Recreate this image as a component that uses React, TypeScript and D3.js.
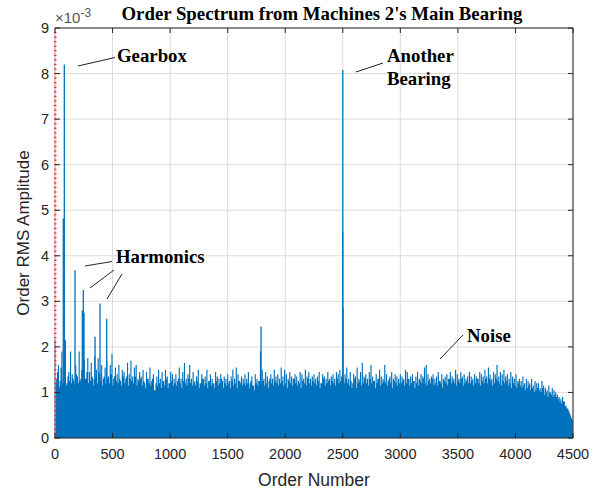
import React from 'react';
import * as d3 from 'd3';

const xTicks = [0, 500, 1000, 1500, 2000, 2500, 3000, 3500, 4000, 4500];
const yTicks = [0, 1, 2, 3, 4, 5, 6, 7, 8, 9];

// noise spike heights (x1e-3), one every 15 orders starting at order 0
const noiseStep = 15;
const noiseTop = [
  2.15, 1.3, 1.6, 1.25, 1.9, 1.35, 1.5, 1.2, 1.45, 1.9,
  1.4, 1.25, 1.6, 1.35, 1.9, 1.3, 1.5, 1.7, 1.3, 1.75,
  1.45, 1.65, 1.3, 1.8, 1.5, 1.75, 1.4, 1.6, 1.3, 1.55,
  1.7, 1.35, 1.6, 1.85, 1.3, 1.55, 1.4, 1.6, 1.25, 1.5,
  1.45, 1.3, 1.65, 1.4, 1.7, 1.35, 1.55, 1.6, 1.3, 1.45,
  1.35, 1.5, 1.2, 1.45, 1.3, 1.55, 1.25, 1.4, 1.05, 1.35,
  1.5, 1.3, 1.45, 1.25, 1.5, 1.35, 1.2, 1.45, 1.4, 1.3,
  1.4, 1.25, 1.55, 1.3, 1.45, 1.65, 1.3, 1.4, 1.6, 1.3,
  1.45, 1.25, 1.35, 1.5, 1.2, 1.4, 1.3, 1.35, 1.5, 1.25,
  1.4, 1.3, 1.2, 1.45, 1.35, 1.3, 1.4, 1.25, 1.35, 1.3,
  1.4, 1.25, 1.35, 1.5, 1.3, 1.55, 1.4, 1.25, 1.35, 1.3,
  1.4, 1.3, 1.45, 1.2, 1.35, 1.15, 1.4, 1.3, 1.25, 1.45,
  1.5, 1.3, 1.45, 1.35, 1.25, 1.4, 1.3, 1.5, 1.35, 1.4,
  1.3, 1.55, 1.35, 1.5, 1.4, 1.3, 1.45, 1.35, 1.3, 1.4,
  1.35, 1.25, 1.45, 1.4, 1.3, 1.5, 1.35, 1.45, 1.3, 1.35,
  1.4, 1.3, 1.35, 1.45, 1.2, 1.4, 1.35, 1.3, 1.45, 1.3,
  1.35, 1.4, 1.3, 1.45, 1.4, 1.5, 1.35, 1.3, 1.4, 1.55,
  1.3, 1.45, 1.1, 1.4, 1.35, 1.55, 1.3, 1.45, 1.65, 1.35,
  1.4, 1.3, 1.45, 1.6, 1.35, 1.25, 1.4, 1.3, 1.5, 1.35,
  1.3, 1.6, 1.4, 1.25, 1.35, 1.45, 1.3, 1.4, 1.35, 1.3,
  1.4, 1.35, 1.3, 1.5, 1.45, 1.3, 1.35, 1.4, 1.25, 1.35,
  1.45, 1.3, 1.4, 1.35, 1.55, 1.6, 1.4, 1.3, 1.35, 1.4,
  1.3, 1.35, 1.45, 1.25, 1.4, 1.3, 1.35, 1.4, 1.3, 1.45,
  1.35, 1.3, 1.5, 1.4, 1.3, 1.45, 1.35, 1.4, 1.3, 1.35,
  1.45, 1.35, 1.3, 1.4, 1.35, 1.3, 1.45, 1.4, 1.35, 1.5,
  1.35, 1.55, 1.4, 1.3, 1.45, 1.4, 1.6, 1.35, 1.45, 1.4,
  1.5, 1.35, 1.4, 1.3, 1.45, 1.35, 1.3, 1.4, 1.25, 1.3,
  1.25, 1.35, 1.2, 1.3, 1.25, 1.2, 1.3, 1.15, 1.25, 1.2,
  1.2, 1.1, 1.25, 1.15, 1.1, 1.05, 1.15, 1.0, 1.1, 1.05,
  1.0, 0.95, 0.9, 0.85, 0.9, 0.8, 0.7, 0.65, 0.55, 0.45,
];

// in-between noise spikes (x1e-3), at orders 7.5 + 15*i
const noiseMid = [
  1.2, 1.45, 1.1, 1.55, 1.2, 1.3, 1.15, 1.35, 1.25, 1.2,
  1.3, 1.15, 1.4, 1.2, 1.25, 1.5, 1.15, 1.3, 1.45, 1.2,
  1.25, 1.35, 1.15, 1.3, 1.2, 1.45, 1.25, 1.15, 1.35, 1.2,
  1.3, 1.2, 1.4, 1.15, 1.35, 1.25, 1.2, 1.3, 1.15, 1.35,
  1.2, 1.35, 1.15, 1.3, 1.25, 1.2, 1.35, 1.15, 1.25, 1.3,
  1.15, 1.25, 1.1, 1.3, 1.2, 1.15, 1.3, 1.05, 1.2, 1.15,
  1.2, 1.1, 1.25, 1.15, 1.3, 1.1, 1.2, 1.25, 1.15, 1.2,
  1.15, 1.3, 1.2, 1.1, 1.25, 1.2, 1.15, 1.3, 1.2, 1.15,
  1.2, 1.15, 1.25, 1.1, 1.2, 1.3, 1.15, 1.2, 1.1, 1.25,
  1.15, 1.2, 1.1, 1.25, 1.15, 1.2, 1.3, 1.1, 1.2, 1.15,
  1.2, 1.1, 1.25, 1.15, 1.2, 1.1, 1.25, 1.2, 1.15, 1.2,
  1.15, 1.2, 1.1, 1.25, 1.15, 1.05, 1.2, 1.15, 1.25, 1.2,
  1.25, 1.15, 1.2, 1.1, 1.3, 1.2, 1.15, 1.25, 1.2, 1.15,
  1.2, 1.25, 1.15, 1.2, 1.1, 1.25, 1.2, 1.15, 1.3, 1.2,
  1.15, 1.2, 1.1, 1.25, 1.2, 1.15, 1.3, 1.2, 1.15, 1.25,
  1.2, 1.15, 1.25, 1.1, 1.2, 1.3, 1.15, 1.2, 1.25, 1.15,
  1.25, 1.2, 1.15, 1.3, 1.2, 1.25, 1.15, 1.2, 1.3, 1.2,
  1.15, 1.25, 1.2, 1.3, 1.1, 1.2, 1.25, 1.15, 1.2, 1.3,
  1.2, 1.15, 1.3, 1.2, 1.25, 1.1, 1.2, 1.3, 1.15, 1.2,
  1.25, 1.2, 1.15, 1.3, 1.2, 1.1, 1.25, 1.2, 1.15, 1.2,
  1.2, 1.25, 1.15, 1.2, 1.3, 1.15, 1.2, 1.25, 1.1, 1.2,
  1.15, 1.25, 1.2, 1.3, 1.2, 1.15, 1.25, 1.2, 1.3, 1.15,
  1.2, 1.15, 1.25, 1.2, 1.1, 1.25, 1.2, 1.15, 1.3, 1.2,
  1.25, 1.2, 1.15, 1.25, 1.2, 1.3, 1.15, 1.2, 1.25, 1.2,
  1.2, 1.25, 1.15, 1.2, 1.3, 1.2, 1.15, 1.25, 1.2, 1.3,
  1.2, 1.3, 1.25, 1.15, 1.2, 1.3, 1.25, 1.2, 1.15, 1.25,
  1.2, 1.25, 1.15, 1.2, 1.1, 1.2, 1.15, 1.1, 1.2, 1.15,
  1.1, 1.15, 1.05, 1.1, 1.15, 1.05, 1.1, 1.0, 1.05, 1.1,
  1.05, 1.0, 1.1, 0.95, 1.0, 0.9, 1.0, 0.95, 0.9, 0.95,
  0.9, 0.85, 0.8, 0.75, 0.8, 0.7, 0.65, 0.6, 0.5, 0.4,
];

// solid noise body level (x1e-3)
const floorOrders = [0, 150, 300, 450, 600, 750, 900, 1050, 1200, 1350, 1500, 1650, 1800, 1950, 2100, 2250, 2400, 2550, 2700, 2850, 3000, 3150, 3300, 3450, 3600, 3750, 3900, 4050, 4200, 4350, 4485];
const floorValues = [1.12, 1.12, 1.12, 1.08, 1.08, 1.04, 1.02, 1.02, 1.04, 1.02, 1.02, 1.0, 1.04, 1.04, 1.04, 1.04, 1.04, 1.04, 1.04, 1.04, 1.04, 1.04, 1.04, 1.04, 1.04, 1.04, 1.0, 0.95, 0.88, 0.72, 0.38];

// distinct spectral peaks (x1e-3)
const peakOrders = [72, 81, 90, 174, 237, 246, 252, 348, 391, 449, 1786, 1790, 2499, 2500, 2502];
const peakValues = [4.82, 8.2, 2.15, 3.68, 2.8, 3.25, 2.75, 2.22, 2.95, 2.62, 1.9, 2.45, 4.53, 8.08, 2.85];

const BLUE = '#0072BD';
const AX = '#262626';

export default function App() {
  const W = 601, H = 491;
  const x = d3.scaleLinear().domain([0, 4500]).range([55, 573]);
  const y = d3.scaleLinear().domain([0, 9]).range([438, 28]);

  const floorArea = d3.area<number>()
    .x((_, i) => x(floorOrders[i]))
    .y0(y(0))
    .y1((d) => y(d));

  const minor = d3.range(0, 90).map((i) => i / 10);

  const sans = 'Liberation Sans, Arial, sans-serif';
  const serif = 'Liberation Serif, Times New Roman, serif';

  const stems =
    noiseTop.map((v, i) => `M${x(i * noiseStep)},${y(0)}V${y(v)}`).join('') +
    noiseMid.map((v, i) => `M${x(i * noiseStep + noiseStep / 2)},${y(0)}V${y(v)}`).join('');

  return (
    <svg width={W} height={H} style={{ position: 'absolute', left: 0, top: 0, background: '#fff' }}>
      <rect x={0} y={0} width={W} height={H} fill="#fff" />
      {/* grid */}
      {xTicks.map((t) => (
        <line key={'gx' + t} x1={x(t)} x2={x(t)} y1={y(0)} y2={y(9)} stroke="#dcdcdc" strokeWidth={1} />
      ))}
      {yTicks.map((t) => (
        <line key={'gy' + t} x1={x(0)} x2={x(4500)} y1={y(t)} y2={y(t)} stroke="#dcdcdc" strokeWidth={1} />
      ))}

      {/* noise body */}
      <path d={floorArea(floorValues) || ''} fill={BLUE} />
      {/* noise spikes */}
      <path d={stems} stroke={BLUE} strokeWidth={1.15} fill="none" />
      {/* peaks */}
      {peakOrders.map((o, i) => (
        <line key={'p' + i} x1={x(o)} x2={x(o)} y1={y(0)} y2={y(peakValues[i])} stroke={BLUE} strokeWidth={1.3} />
      ))}

      {/* box */}
      <line x1={x(0)} x2={x(4500)} y1={y(0)} y2={y(0)} stroke={AX} strokeWidth={1} />
      <line x1={x(0)} x2={x(4500)} y1={y(9)} y2={y(9)} stroke={AX} strokeWidth={1} />
      <line x1={x(4500)} x2={x(4500)} y1={y(0)} y2={y(9)} stroke={AX} strokeWidth={1} />
      <line x1={x(0)} x2={x(0)} y1={y(0)} y2={y(9)} stroke="#e8a0a0" strokeWidth={1} />
      {minor.map((m) => (
        <line key={'mn' + m} x1={x(0) - 1} x2={x(0) + 1.5} y1={y(m)} y2={y(m)} stroke="#e03030" strokeWidth={1.2} />
      ))}
      {/* ticks */}
      {xTicks.map((t) => (
        <g key={'tx' + t}>
          <line x1={x(t)} x2={x(t)} y1={y(0)} y2={y(0) - 5} stroke={AX} />
          <line x1={x(t)} x2={x(t)} y1={y(9)} y2={y(9) + 5} stroke={AX} />
          <text x={x(t)} y={y(0) + 21} textAnchor="middle" fontFamily={sans} fontSize={14.5} fill={AX}>{t}</text>
        </g>
      ))}
      {yTicks.map((t) => (
        <g key={'ty' + t}>
          <line x1={x(0)} x2={x(0) + 5} y1={y(t)} y2={y(t)} stroke={AX} />
          <line x1={x(4500)} x2={x(4500) - 5} y1={y(t)} y2={y(t)} stroke={AX} />
          <text x={x(0) - 6} y={y(t) + 5} textAnchor="end" fontFamily={sans} fontSize={14.5} fill={AX}>{t}</text>
        </g>
      ))}
      {/* exponent */}
      <text x={55} y={23} fontFamily={sans} fontSize={15} fill="#555">
        ×10<tspan dy={-6} fontSize={12}>-3</tspan>
      </text>

      {/* axis labels */}
      <text x={314} y={486} textAnchor="middle" fontFamily={sans} fontSize={17.5} fill={AX}>Order Number</text>
      <text transform={`translate(29,${y(4.5)}) rotate(-90)`} textAnchor="middle" fontFamily={sans} fontSize={17} fill={AX}>Order RMS Amplitude</text>

      {/* title */}
      <text x={322} y={20} textAnchor="middle" fontFamily={serif} fontWeight="bold" fontSize={18.8} fill="#000">Order Spectrum from Machines 2's Main Bearing</text>

      {/* annotations */}
      <g fontFamily={serif} fontWeight="bold" fontSize={18.8} fill="#000">
        <text x={117} y={62}>Gearbox</text>
        <text x={116} y={263}>Harmonics</text>
        <text x={387} y={62}>Another</text>
        <text x={387} y={85}>Bearing</text>
        <text x={467} y={342}>Noise</text>
      </g>
      <g stroke="#222" strokeWidth={1} fill="none">
        <line x1={78} y1={66} x2={115} y2={57.5} />
        <line x1={85} y1={266} x2={112} y2={261.5} />
        <line x1={90} y1={288} x2={114} y2={270} />
        <line x1={107} y1={299} x2={122} y2={274} />
        <line x1={356} y1={72} x2={383} y2={63} />
        <line x1={440} y1={359} x2={463} y2={335} />
      </g>
    </svg>
  );
}
